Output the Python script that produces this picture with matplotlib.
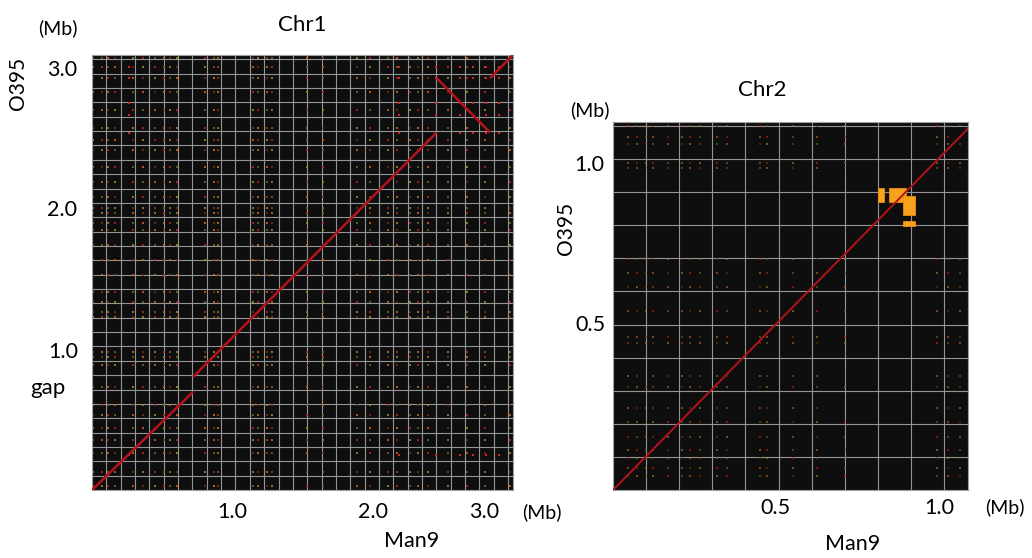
import matplotlib
matplotlib.use("Agg")
import matplotlib.pyplot as plt
from matplotlib.patches import Rectangle

plt.rcParams['font.family'] = ['Lato', 'DejaVu Sans']

W, H = 1032, 558

# ---------------- data (Mb) ----------------
chr1_xlim = (0, 2.934)
chr1_ylim = (0, 3.03)
# syntenic segments (Man9 x, O395 y)
chr1_seg_x = [[0.0, 0.704], [0.704, 2.402], [2.402, 2.774], [2.774, 2.934]]
chr1_seg_y = [[0.0, 0.683], [0.787, 2.490], [2.869, 2.490], [2.869, 3.030]]
# repeat loci (columns on Man9, rows on O395)
chr1_rep_x = [0.01, 0.070, 0.112, 0.160, 0.286, 0.355, 0.439, 0.502, 0.544, 0.592,
              0.787, 0.850, 0.878, 1.122, 1.157, 1.220, 1.254, 1.498, 1.610, 1.847,
              1.937, 2.063, 2.125, 2.216, 2.272, 2.341, 2.481, 2.613, 2.739, 2.913]
chr1_rep_y = [3.010, 2.948, 2.871, 2.774, 2.648, 2.523, 2.436, 2.369, 2.251, 2.146,
              2.042, 1.965, 1.930, 1.861, 1.812, 1.707, 1.603, 1.498, 1.380, 1.310,
              1.240, 1.206, 0.962, 0.927, 0.871, 0.718, 0.592, 0.523, 0.432, 0.348,
              0.258, 0.125, 0.028]
# strong red repeat family
chr1_is_x = [0.258, 2.139, 2.397, 2.564, 2.655, 2.746, 2.836]
chr1_is_y = [2.948, 2.871, 2.697, 2.613, 2.488, 0.244]

chr2_xlim = (0, 1.072)
chr2_ylim = (0, 1.112)
chr2_seg_x = [[0.0, 1.072]]
chr2_seg_y = [[0.0, 1.092]]
chr2_rep_x = [0.045, 0.073, 0.100, 0.121, 0.166, 0.208, 0.233, 0.263, 0.314, 0.344,
              0.444, 0.465, 0.544, 0.616, 0.701, 0.979, 1.012, 1.048]
chr2_rep_y = [1.100, 1.066, 1.045, 0.988, 0.973, 0.698, 0.656, 0.613, 0.541, 0.462,
              0.444, 0.344, 0.311, 0.248, 0.205, 0.160, 0.121, 0.097, 0.066, 0.042]
# orange block cluster (x0, x1, y0, y1)
chr2_blocks_x0 = [0.800, 0.832, 0.877, 0.877]
chr2_blocks_x1 = [0.817, 0.885, 0.913, 0.913]
chr2_blocks_y0 = [0.870, 0.870, 0.830, 0.797]
chr2_blocks_y1 = [0.913, 0.913, 0.888, 0.812]

dot_palette = ['#b8261c', '#c8641e', '#9c8a24', '#5e6e1e', '#7a2a18']

fig = plt.figure(figsize=(W / 100, H / 100), dpi=100)
fig.patch.set_facecolor('white')


def px_axes(l, t, r, b):
    return fig.add_axes([l / W, 1 - b / H, (r - l) / W, (b - t) / H])


def txt(x, y, s, size=13, **kw):
    fig.text(x / W, 1 - y / H, s, fontsize=size, ha='center', va='center', **kw)


def style(ax, xlim, ylim):
    ax.set_facecolor('#0e0e0e')
    ax.set_xlim(*xlim)
    ax.set_ylim(*ylim)
    ax.set_xticks([])
    ax.set_yticks([])
    for s in ax.spines.values():
        s.set_color('#a0a0a0')
        s.set_linewidth(0.8)
    k = 1
    while k * 0.1 < xlim[1] - 1e-6:
        ax.axvline(k * 0.1, color='#959595', lw=0.8, zorder=1)
        k += 1
    k = 1
    while k * 0.1 < ylim[1] - 1e-6:
        ax.axhline(k * 0.1, color='#959595', lw=0.8, zorder=1)
        k += 1


def dots(ax, xs, ys, size, alpha):
    px, py, pc = [], [], []
    for i, x in enumerate(xs):
        for j, y in enumerate(ys):
            px.append(x)
            py.append(y)
            pc.append(dot_palette[(3 * i + 7 * j) % len(dot_palette)])
    ax.scatter(px, py, s=size, c=pc, marker='s', linewidths=0, alpha=alpha, zorder=2)


# ---------------- Chr1 ----------------
ax1 = px_axes(92, 55, 513, 490)
style(ax1, chr1_xlim, chr1_ylim)
dots(ax1, chr1_rep_x, chr1_rep_y, 2.2, 0.85)
ix, iy = [], []
for x in chr1_is_x:
    for y in chr1_is_y:
        ix.append(x)
        iy.append(y)
ax1.scatter(ix, iy, s=4.5, c='#e0201a', marker='s', linewidths=0, zorder=3)
for sx, sy in zip(chr1_seg_x, chr1_seg_y):
    ax1.plot(sx, sy, color='#b5121b', lw=1.8, solid_capstyle='butt', zorder=4)

# ---------------- Chr2 ----------------
ax2 = px_axes(613, 122, 968, 490)
style(ax2, chr2_xlim, chr2_ylim)
dots(ax2, chr2_rep_x, chr2_rep_y, 2.0, 0.6)
for x0, x1, y0, y1 in zip(chr2_blocks_x0, chr2_blocks_x1, chr2_blocks_y0, chr2_blocks_y1):
    ax2.add_patch(Rectangle((x0, y0), x1 - x0, y1 - y0, facecolor='#f7a21b',
                            edgecolor='#f08a10', lw=0.6, zorder=3))
for sx, sy in zip(chr2_seg_x, chr2_seg_y):
    ax2.plot(sx, sy, color='#b5121b', lw=1.4, zorder=4)

# ---------------- labels ----------------
txt(302, 25, 'Chr1', 16)
txt(58, 28, '(Mb)', 14)
txt(62, 70, '3.0', 15.5)
txt(62, 210, '2.0', 15.5)
txt(63, 352, '1.0', 15.5)
txt(48, 388, 'gap', 16)
txt(18, 83, 'O395', 15, rotation=90)
txt(232, 512, '1.0', 15.5)
txt(373, 512, '2.0', 15.5)
txt(484, 512, '3.0', 15.5)
txt(542, 512, '(Mb)', 14)
txt(412, 541, 'Man9', 15.5)

txt(762, 90, 'Chr2', 16)
txt(590, 110, '(Mb)', 14)
txt(589, 165, '1.0', 15.5)
txt(590, 325, '0.5', 15.5)
txt(566, 228, 'O395', 15, rotation=90)
txt(775, 508, '0.5', 15.5)
txt(939, 508, '1.0', 15.5)
txt(1005, 507, '(Mb)', 14)
txt(853, 544, 'Man9', 15.5)

fig.savefig('out.png', dpi=100, facecolor='white')
